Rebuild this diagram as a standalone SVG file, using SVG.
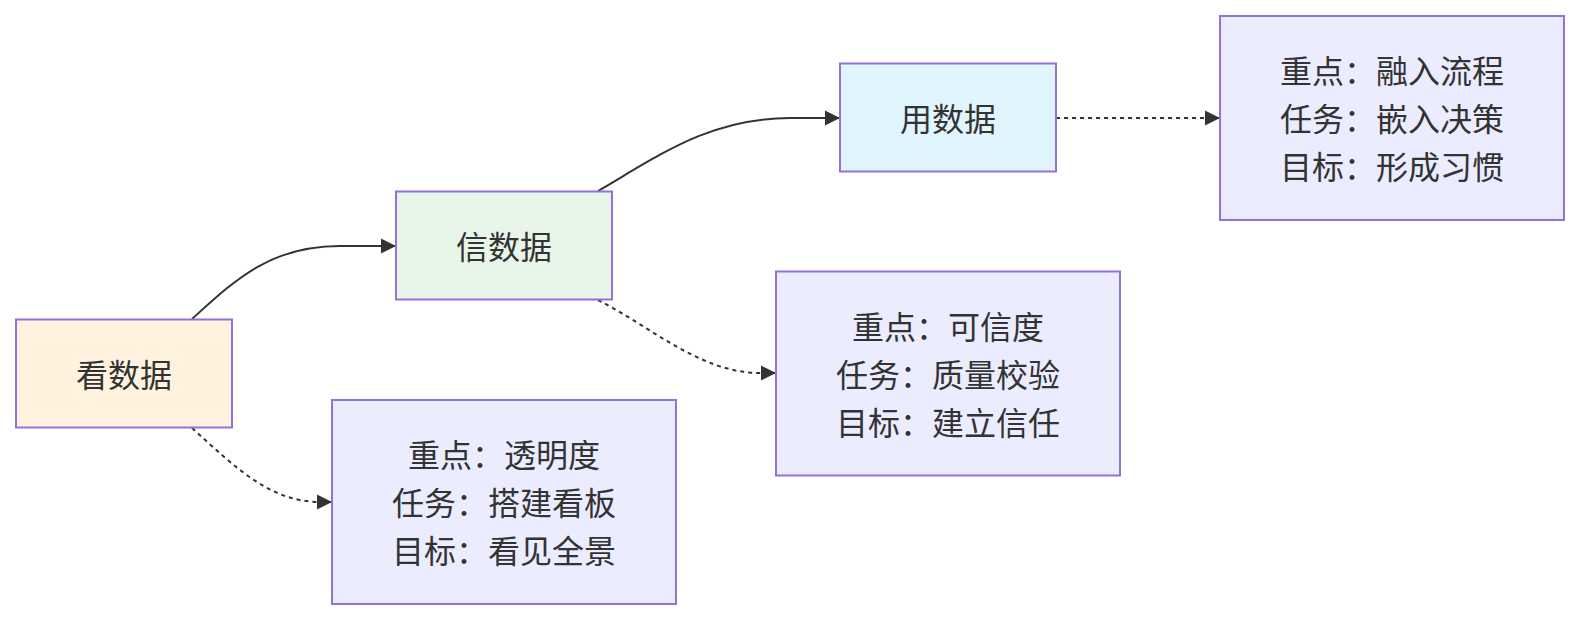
<svg xmlns="http://www.w3.org/2000/svg" width="1580" height="620" viewBox="0 0 1580 620">
<style>
.node rect{stroke:#9370DB;stroke-width:2}
.t{font-family:"Noto Sans CJK SC","Noto Sans",sans-serif;font-size:32px;fill:#333;text-anchor:middle;dominant-baseline:central}
.e{fill:none;stroke:#333;stroke-width:2}
.d{stroke-dasharray:4 4}
.detail rect{fill:#ECECFF}
</style>
<defs>
<marker id="arr" viewBox="0 0 10 10" refX="10" refY="5" markerWidth="15" markerHeight="16" markerUnits="userSpaceOnUse" orient="auto">
<path d="M0,0 L10,5 L0,10 z" fill="#333"/>
</marker>
</defs>
<rect width="1580" height="620" fill="#fff"/>
<g id="edges">
<path class="e" d="M192,319 C235,280 270,246 340,246 L396,246" marker-end="url(#arr)"/>
<path class="e" d="M598,191 C660,155 710,118 790,118 L840,118" marker-end="url(#arr)"/>
<path class="e d" d="M192,428 C235,467 270,502 320,502 L332,502" marker-end="url(#arr)"/>
<path class="e d" d="M598,300 C650,326 700,373 760,373 L776,373" marker-end="url(#arr)"/>
<path class="e d" d="M1056,118 L1220,118" marker-end="url(#arr)"/>
</g>
<g id="n1" class="node"><rect x="16" y="319.5" width="216" height="108" fill="#FFF3E0"/><text class="t" x="124" y="372.5">看数据</text></g>
<g id="n2" class="node"><rect x="396" y="191.5" width="216" height="108" fill="#E8F5E9"/><text class="t" x="504" y="244.5">信数据</text></g>
<g id="n3" class="node"><rect x="840" y="63.5" width="216" height="108" fill="#E1F5FE"/><text class="t" x="948" y="116.5">用数据</text></g>
<g id="d1" class="node detail"><rect x="332" y="400" width="344" height="204"/>
<text class="t" x="504" y="453">重点：透明度</text><text class="t" x="504" y="501">任务：搭建看板</text><text class="t" x="504" y="549">目标：看见全景</text></g>
<g id="d2" class="node detail"><rect x="776" y="271.5" width="344" height="204"/>
<text class="t" x="948" y="324.5">重点：可信度</text><text class="t" x="948" y="372.5">任务：质量校验</text><text class="t" x="948" y="420.5">目标：建立信任</text></g>
<g id="d3" class="node detail"><rect x="1220" y="16" width="344" height="204"/>
<text class="t" x="1392" y="69">重点：融入流程</text><text class="t" x="1392" y="117">任务：嵌入决策</text><text class="t" x="1392" y="165">目标：形成习惯</text></g>
</svg>
